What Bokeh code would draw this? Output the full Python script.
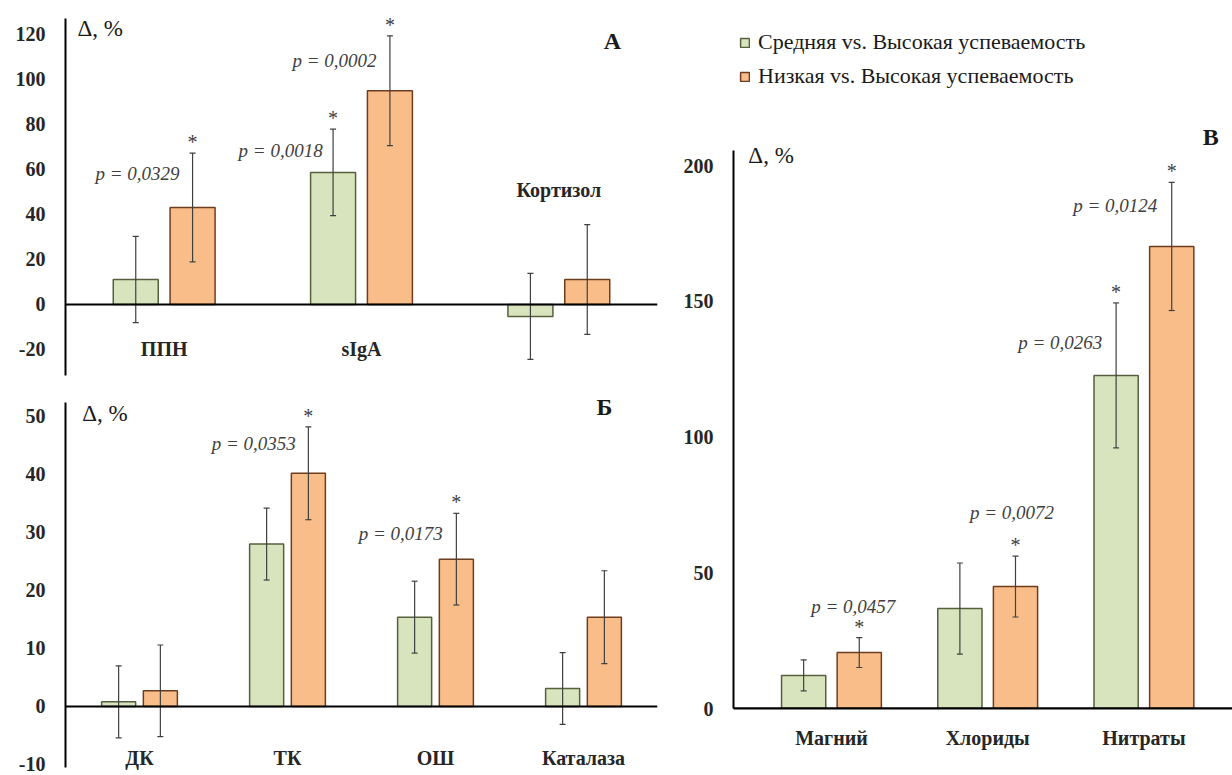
from bokeh.plotting import figure
from bokeh.layouts import row, column
from bokeh.models import (ColumnDataSource, Range1d, Span, Whisker, TeeHead,
                          Label, Legend, LegendItem, FixedTicker)
from bokeh.core.properties import value
from bokeh.embed import file_html
from bokeh.resources import INLINE

# ---------------- data ----------------
series_names = ["Средняя vs. Высокая успеваемость", "Низкая vs. Высокая успеваемость"]

# Panel A
a_cats = ["ППН", "sIgA", "Кортизол"]
a_mid = [11.1, 58.7, -5.3]
a_mid_err = [19.2, 19.2, 19.1]
a_low = [43.1, 95.0, 11.1]
a_low_err = [24.2, 24.4, 24.4]
a_star_mid = [False, True, False]
a_star_low = [True, True, False]
a_pvals = ["p = 0,0329", "p = 0,0018", "p = 0,0002"]
a_ticks = [-20, 0, 20, 40, 60, 80, 100, 120]

# Panel Б
b_cats = ["ДК", "ТК", "ОШ", "Каталаза"]
b_mid = [0.8, 28.0, 15.4, 3.1]
b_mid_err = [6.2, 6.2, 6.2, 6.2]
b_low = [2.7, 40.2, 25.4, 15.4]
b_low_err = [7.9, 8.0, 7.9, 8.0]
b_star_mid = [False, False, False, False]
b_star_low = [False, True, True, False]
b_pvals = ["p = 0,0353", "p = 0,0173"]
b_ticks = [-10, 0, 10, 20, 30, 40, 50]

# Panel В
c_cats = ["Магний", "Хлориды", "Нитраты"]
c_mid = [12.2, 36.8, 122.7]
c_mid_err = [5.7, 16.8, 26.7]
c_low = [20.6, 44.9, 170.2]
c_low_err = [5.5, 11.2, 23.6]
c_star_mid = [False, False, True]
c_star_low = [True, True, True]
c_pvals = ["p = 0,0457", "p = 0,0072", "p = 0,0263", "p = 0,0124"]
c_ticks = [0, 50, 100, 150, 200]

# ---------------- annotation placement (data coords) ----------------
a_p_x = [-0.135, 0.59, 0.863]
a_p_y = [58.2, 68.4, 108.4]
a_cat_y = [-19.6, -19.6, 50.7]
b_p_x = [0.772, 1.765]
b_p_y = [45.3, 29.8]
b_cat_y = [-8.8, -8.8, -8.8, -8.8]
c_p_x = [0.139, 1.156, 1.465, 1.817]
c_p_y = [37.6, 72.2, 134.8, 185.3]

# ---------------- styles ----------------
GREEN = "#d7e4bd"
GREEN_LINE = "#56603f"
ORANGE = "#f9bd8a"
ORANGE_LINE = "#6e3d1f"
SERIF = "Liberation Serif"
GRAY = "#404040"
TICK_COLOR = "#262626"


def make_panel(cats, mid, mid_err, low, low_err, star_mid, star_low,
               pvals, p_x, p_y, ticks, width, height, xr, yr, axis_bounds, borders,
               offset, bw, cat_y=None):
    p = figure(width=width, height=height, x_range=Range1d(*xr), y_range=Range1d(*yr),
               output_backend="svg", toolbar_location=None,
               x_axis_location=("below" if cat_y is None else None))
    p.min_border_left, p.min_border_right, p.min_border_top, p.min_border_bottom = borders
    p.outline_line_color = None
    p.grid.visible = False
    p.background_fill_color = "white"

    xs = list(range(len(cats)))
    rends = []
    for vals, errs, stars, fill, line, off in (
            (mid, mid_err, star_mid, GREEN, GREEN_LINE, -offset),
            (low, low_err, star_low, ORANGE, ORANGE_LINE, offset)):
        src = ColumnDataSource(dict(
            x=[x + off for x in xs], top=vals,
            upper=[v + e for v, e in zip(vals, errs)],
            lower=[v - e for v, e in zip(vals, errs)]))
        r = p.vbar(x="x", top="top", bottom=0, width=bw, source=src,
                   fill_color=fill, line_color=line, line_width=1.5)
        rends.append(r)
        w = Whisker(source=src, base="x", upper="upper", lower="lower",
                    dimension="height", line_color=GRAY, line_width=1.2,
                    upper_head=TeeHead(size=6, line_color=GRAY, line_width=1.2),
                    lower_head=TeeHead(size=6, line_color=GRAY, line_width=1.2),
                    level="annotation")
        p.add_layout(w)
        sx = [x + off for x, s in zip(xs, stars) if s]
        sy = [v + e for v, e, s in zip(vals, errs, stars) if s]
        if sx:
            p.text(x=sx, y=sy, text=["*"] * len(sx), text_font=value(SERIF),
                   text_font_size="20px", text_color=GRAY, text_align="center",
                   text_baseline="middle", y_offset=-11)

    p.add_layout(Span(location=0, dimension="width", line_color="black", line_width=2))

    p.text(x=p_x, y=p_y, text=pvals, text_font=value(SERIF), text_font_style="italic",
           text_font_size="19px", text_color=GRAY, text_align="center", text_baseline="middle")

    if cat_y is not None:
        p.text(x=xs, y=cat_y, text=cats, text_font=value(SERIF), text_font_style="bold",
               text_font_size="20px", text_color=TICK_COLOR, text_align="center",
               text_baseline="middle")
    else:
        ax = p.xaxis[0]
        ax.ticker = FixedTicker(ticks=xs)
        ax.major_label_overrides = {i: c for i, c in enumerate(cats)}
        ax.axis_line_width = 2
        ax.axis_line_color = "black"
        ax.major_tick_line_color = None
        ax.major_tick_out = 0
        ax.major_tick_in = 0
        ax.minor_tick_line_color = None
        ax.major_label_text_font = SERIF
        ax.major_label_text_font_style = "bold"
        ax.major_label_text_font_size = "20px"
        ax.major_label_text_color = TICK_COLOR
        ax.major_label_standoff = 18

    ya = p.yaxis[0]
    ya.ticker = FixedTicker(ticks=ticks)
    ya.bounds = axis_bounds
    ya.major_label_overrides = {t: str(t) for t in ticks if t < 0}
    ya.axis_line_width = 2
    ya.axis_line_color = "black"
    ya.major_tick_line_color = None
    ya.major_tick_out = 0
    ya.major_tick_in = 0
    ya.minor_tick_line_color = None
    ya.major_label_text_font = SERIF
    ya.major_label_text_font_style = "bold"
    ya.major_label_text_font_size = "20px"
    ya.major_label_text_color = TICK_COLOR
    ya.major_label_standoff = 20
    return p, rends


def add_label(p, x, y, text, size, bold=False, align="center"):
    p.add_layout(Label(x=x, y=y, text=text, text_font=SERIF,
                       text_font_style=("bold" if bold else "normal"),
                       text_font_size=size, text_color="#1a1a1a",
                       text_align=align, text_baseline="middle"))


# Panel A  (frame: x 65..657, y 0..375; zero at 304, 2.25 px/unit)
pa, _ = make_panel(a_cats, a_mid, a_mid_err, a_low, a_low_err, a_star_mid, a_star_low,
                   a_pvals, a_p_x, a_p_y, a_ticks, 680, 385, (-0.5, 2.5), (-31.56, 135.1),
                   (-31.56, 127.1), (65, 23, 0, 10), 0.144, 0.228, cat_y=a_cat_y)
add_label(pa, -0.439, 122.7, "Δ, %", "23px", align="left")
add_label(pa, 2.272, 117.3, "А", "24px", bold=True)

# Panel Б  (frame: x 63..667, y 385..775; zero at 706, 5.8 px/unit)
pb, _ = make_panel(b_cats, b_mid, b_mid_err, b_low, b_low_err, b_star_mid, b_star_low,
                   b_pvals, b_p_x, b_p_y, b_ticks, 680, 390, (-0.5, 3.5), (-11.9, 55.34),
                   (-10.5, 52.41), (63, 13, 0, 0), 0.141, 0.23, cat_y=b_cat_y)
add_label(pb, -0.387, 50.5, "Δ, %", "23px", align="left")
add_label(pb, 3.142, 51.6, "Б", "24px", bold=True)

# Panel В  (frame: x 725..1232, y 0..708; zero at 708, 2.715 px/unit)
pc, rc = make_panel(c_cats, c_mid, c_mid_err, c_low, c_low_err, c_star_mid, c_star_low,
                    c_pvals, c_p_x, c_p_y, c_ticks, 552, 775, (-0.627, 2.567), (0, 260.8),
                    (0, 205.5), (45, 0, 0, 67), 0.178, 0.283, cat_y=None)
add_label(pc, -0.532, 203.7, "Δ, %", "23px", align="left")
add_label(pc, 2.428, 210.7, "В", "24px", bold=True)

legend = Legend(items=[LegendItem(label=series_names[0], renderers=[rc[0]]),
                       LegendItem(label=series_names[1], renderers=[rc[1]])],
                location=(6, 619), glyph_width=11, glyph_height=11,
                label_text_font=SERIF, label_text_font_size="22px",
                label_text_color="#1a1a1a", label_standoff=8, spacing=8,
                padding=0, margin=0, border_line_color=None, background_fill_alpha=0)
pc.add_layout(legend)

layout = row(column(pa, pb), pc)
open("out.html", "w").write(file_html(layout, INLINE))
